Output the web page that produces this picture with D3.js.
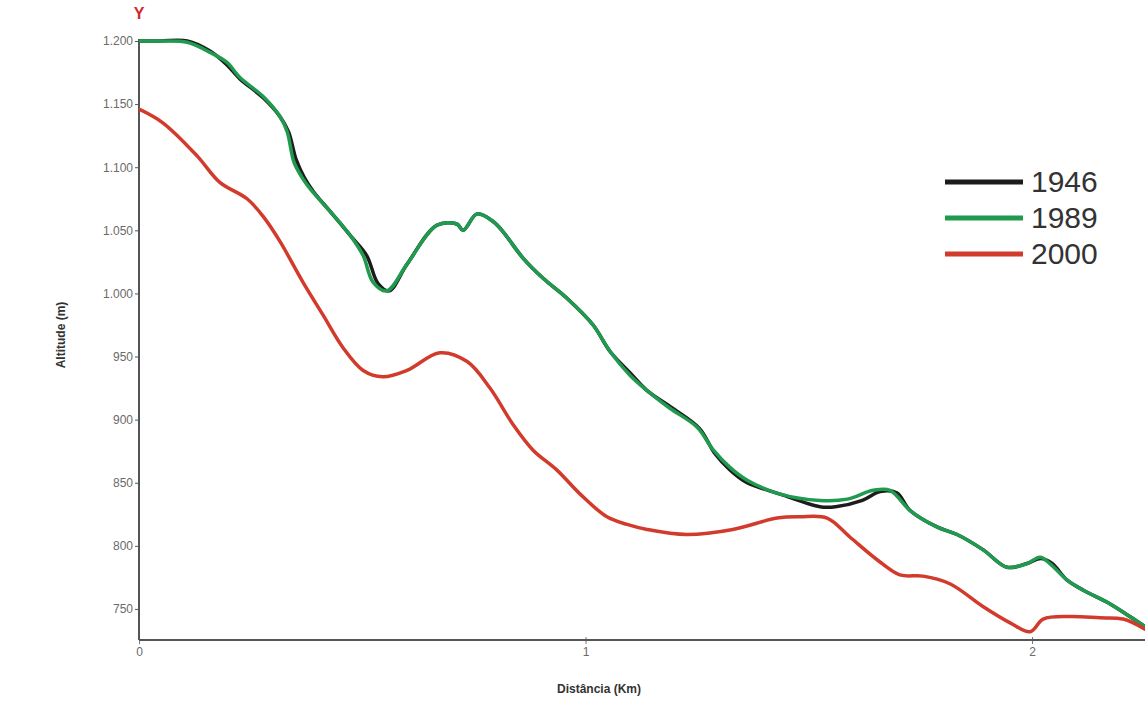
<!DOCTYPE html>
<html>
<head>
<meta charset="utf-8">
<script src="https://cdn.jsdelivr.net/npm/d3@7"></script>
<style>
  body { margin: 0; background: #fff; }
  svg { display: block; font-family: "Liberation Sans", Arial, sans-serif; }
</style>
</head>
<body>
<div id="chart"></div>
<script>
// profile data: distance (km), altitude (m)
var dist1946 = [0, 0.047, 0.108, 0.159, 0.197, 0.226, 0.278, 0.316, 0.335, 0.352, 0.370, 0.390, 0.428, 0.473, 0.510, 0.535, 0.560, 0.600, 0.667, 0.712, 0.726, 0.757, 0.793, 0.815, 0.860, 0.905, 0.959, 1.017, 1.055, 1.100, 1.138, 1.195, 1.255, 1.290, 1.324, 1.362, 1.436, 1.525, 1.560, 1.620, 1.660, 1.697, 1.727, 1.787, 1.832, 1.890, 1.944, 1.989, 2.020, 2.045, 2.078, 2.114, 2.175, 2.219, 2.253];
var alt1946  = [1200, 1200, 1200, 1192, 1181, 1170, 1155, 1140, 1128, 1106, 1092, 1081, 1065, 1046, 1030, 1008, 1002, 1023, 1054, 1055, 1050, 1063, 1057, 1049, 1028, 1012, 996, 975, 954, 937, 923, 909, 893, 873, 860, 850, 841, 831, 831, 836, 843, 842, 828, 815, 809, 797, 783, 786, 790, 786, 773, 765, 754, 744, 736];

var dist1989 = [0, 0.047, 0.108, 0.159, 0.197, 0.226, 0.278, 0.316, 0.332, 0.347, 0.365, 0.383, 0.428, 0.473, 0.502, 0.524, 0.555, 0.600, 0.667, 0.712, 0.726, 0.757, 0.793, 0.815, 0.860, 0.905, 0.959, 1.017, 1.055, 1.100, 1.138, 1.189, 1.250, 1.286, 1.324, 1.362, 1.436, 1.525, 1.586, 1.644, 1.682, 1.727, 1.787, 1.832, 1.890, 1.944, 1.989, 2.018, 2.040, 2.078, 2.114, 2.175, 2.219, 2.253];
var alt1989  = [1200, 1200, 1199, 1191, 1183, 1171, 1156, 1140, 1128, 1104, 1092, 1083, 1065, 1046, 1030, 1009, 1002, 1023, 1054, 1055, 1050, 1063, 1057, 1049, 1028, 1012, 996, 975, 954, 935, 923, 909, 894, 876, 862, 852, 841, 836, 837, 844, 844, 828, 815, 809, 797, 783, 786, 791, 786, 773, 765, 754, 744, 736];

var dist2000 = [0, 0.054, 0.130, 0.181, 0.242, 0.278, 0.316, 0.367, 0.412, 0.457, 0.502, 0.546, 0.600, 0.674, 0.735, 0.786, 0.838, 0.882, 0.936, 0.988, 1.048, 1.093, 1.138, 1.227, 1.330, 1.429, 1.480, 1.541, 1.592, 1.653, 1.704, 1.756, 1.816, 1.890, 1.951, 1.996, 2.025, 2.085, 2.152, 2.204, 2.253];
var alt2000  = [1146, 1135, 1109, 1088, 1075, 1061, 1041, 1009, 983, 957, 939, 934, 939, 953, 946, 925, 896, 876, 860, 841, 823, 817, 813, 809, 813, 822, 823, 822, 807, 789, 777, 776, 770, 752, 739, 732, 742, 744, 743, 742, 734];

var yTicks = [750, 800, 850, 900, 950, 1000, 1050, 1100, 1150, 1200];
var xTicks = [0, 1, 2];

var series = [
  { name: "1946", color: "#1c1c1c", x: dist1946, y: alt1946 },
  { name: "1989", color: "#1f9a4e", x: dist1989, y: alt1989 },
  { name: "2000", color: "#d23a2c", x: dist2000, y: alt2000 }
];

var width = 1145, height = 707;
var mLeft = 139, mRight = 1145, mTop = 41, mBottom = 640;

var x = d3.scaleLinear().domain([0, 2.253]).range([mLeft, mRight]);
var y = d3.scaleLinear().domain([725.4, 1200]).range([mBottom, mTop]);

var svg = d3.select("#chart").append("svg")
    .attr("width", width)
    .attr("height", height);

// y axis, thousands written with a dot
var yAxis = svg.append("g")
    .attr("transform", `translate(${mLeft},0)`)
    .call(d3.axisLeft(y).tickValues(yTicks).tickSize(4).tickPadding(2)
      .tickFormat(d => d >= 1000 ? d3.format(",")(d).replace(",", ".") : d));
yAxis.select(".domain").remove();
yAxis.selectAll(".tick line").attr("stroke", "#555");
yAxis.selectAll(".tick text").attr("fill", "#6a6a6a").style("font-size", "12px");

// x axis
var xAxis = svg.append("g")
    .attr("transform", `translate(0,${mBottom})`)
    .call(d3.axisBottom(x).tickValues(xTicks).tickSize(4).tickPadding(3).tickFormat(d3.format("d")));
xAxis.select(".domain").remove();
xAxis.selectAll(".tick line").attr("stroke", "#777").attr("y1", -3);
xAxis.selectAll(".tick text").attr("fill", "#6a6a6a").style("font-size", "12px");

// axis lines
svg.append("line")
    .attr("x1", mLeft).attr("x2", mLeft).attr("y1", mTop - 2).attr("y2", mBottom)
    .attr("stroke", "#555").attr("stroke-width", 2);
svg.append("line")
    .attr("x1", mLeft).attr("x2", mRight).attr("y1", mBottom).attr("y2", mBottom)
    .attr("stroke", "#555").attr("stroke-width", 2);

// profiles
var line = d3.line()
    .x(d => x(d[0]))
    .y(d => y(d[1]))
    .curve(d3.curveCatmullRom.alpha(0.5));

svg.append("defs").append("clipPath").attr("id", "clip")
  .append("rect").attr("x", mLeft).attr("y", 0).attr("width", mRight - mLeft).attr("height", mBottom);

svg.append("g").attr("clip-path", "url(#clip)")
  .selectAll("path")
  .data(series)
  .enter().append("path")
    .attr("d", s => line(s.x.map((v, i) => [v, s.y[i]])))
    .attr("fill", "none")
    .attr("stroke", s => s.color)
    .attr("stroke-width", 3.5)
    .attr("stroke-linejoin", "round")
    .attr("stroke-linecap", "round");

// labels
svg.append("text")
    .attr("x", mLeft).attr("y", 19)
    .attr("text-anchor", "middle")
    .attr("fill", "#cc2a2a")
    .style("font-size", "16px").style("font-weight", "bold")
    .text("Y");

svg.append("text")
    .attr("transform", "translate(65,335) rotate(-90)")
    .attr("text-anchor", "middle")
    .attr("fill", "#333")
    .style("font-size", "12px").style("font-weight", "bold")
    .text("Altitude (m)");

svg.append("text")
    .attr("x", 599).attr("y", 693)
    .attr("text-anchor", "middle")
    .attr("fill", "#333")
    .style("font-size", "12px").style("font-weight", "bold")
    .text("Distância (Km)");

// legend
var legend = svg.append("g")
  .selectAll("g")
  .data(series)
  .enter().append("g")
    .attr("transform", (d, i) => `translate(945,${182 + i * 36})`);
legend.append("line")
    .attr("x1", 0).attr("x2", 78)
    .attr("stroke", d => d.color)
    .attr("stroke-width", 5);
legend.append("text")
    .attr("x", 86).attr("y", 10)
    .attr("fill", "#333")
    .style("font-size", "30px")
    .text(d => d.name);
</script>
</body>
</html>
